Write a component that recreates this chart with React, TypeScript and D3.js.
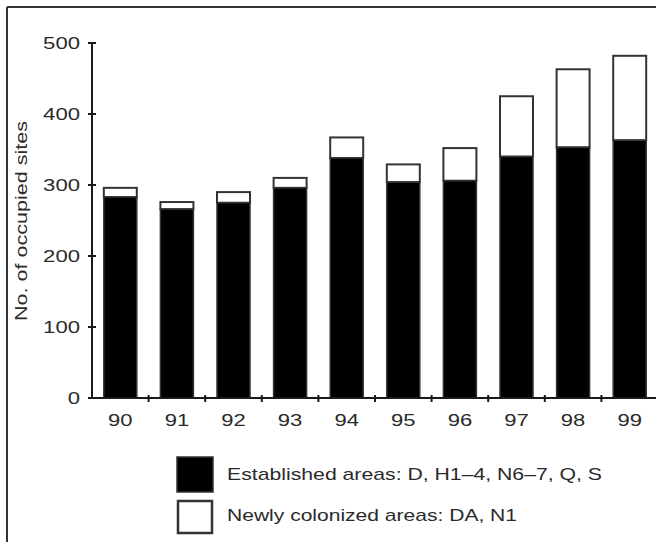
import React from "react";
import * as d3 from "d3";

const years = ["90", "91", "92", "93", "94", "95", "96", "97", "98", "99"];
const established = [283, 266, 275, 296, 338, 304, 306, 340, 353, 363];
const newlyColonized = [13, 10, 15, 14, 29, 25, 46, 85, 110, 119];
const yTicks = [0, 100, 200, 300, 400, 500];
const legendLabels = [
  "Established areas: D, H1\u20134, N6\u20137, Q, S",
  "Newly colonized areas: DA, N1",
];
const yTitle = "No. of occupied sites";

const W = 656;
const H = 542;
const ink = "#1a1a1a";
const font = "'Liberation Sans', Arial, Helvetica, sans-serif";

export default function App() {
  const x = d3
    .scaleBand<string>()
    .domain(years)
    .range([92, 658])
    .paddingInner(0.417)
    .paddingOuter(0.2085);
  const y = d3.scaleLinear().domain([0, 500]).range([398, 43]);
  const step = x.step();
  const bw = x.bandwidth();

  const rows = years.map((yr, i) => ({
    yr,
    est: established[i],
    nw: newlyColonized[i],
  }));

  return (
    <svg
      width={W}
      height={H}
      style={{ position: "absolute", left: 0, top: 0, background: "#fff" }}
    >
      <rect x={0} y={0} width={W} height={H} fill="#fff" />
      {/* frame */}
      <line x1={7} y1={7} x2={W} y2={7} stroke="#333" strokeWidth={2} />
      <line x1={7} y1={7} x2={7} y2={H} stroke="#333" strokeWidth={2} />

      {/* bars */}
      {rows.map((r) => (
        <g key={r.yr}>
          <rect
            x={x(r.yr)}
            y={y(r.est + r.nw)}
            width={bw}
            height={y(r.est) - y(r.est + r.nw)}
            fill="#fff"
            stroke="#333"
            strokeWidth={2}
          />
          <rect
            x={x(r.yr)}
            y={y(r.est)}
            width={bw}
            height={y(0) - y(r.est)}
            fill="#000"
            stroke="#333"
            strokeWidth={1.5}
          />
        </g>
      ))}

      {/* y axis */}
      <line x1={92} y1={y(500)} x2={92} y2={y(0)} stroke={ink} strokeWidth={2} />
      {yTicks.map((t) => (
        <g key={t}>
          <line x1={88} x2={96} y1={y(t)} y2={y(t)} stroke={ink} strokeWidth={2} />
          <text
            x={80}
            y={y(t) + 6}
            textAnchor="end"
            fontFamily={font}
            fontSize={16}
            fill="#2a2a2a"
            textLength={String(t).length * 12.3}
            lengthAdjust="spacingAndGlyphs"
          >
            {t}
          </text>
        </g>
      ))}

      {/* x axis */}
      <line x1={92} y1={y(0)} x2={W} y2={y(0)} stroke={ink} strokeWidth={2} />
      {years.map((yr) => (
        <g key={yr}>
          <line
            x1={(x(yr) as number) - (step - bw) / 2 + step}
            x2={(x(yr) as number) - (step - bw) / 2 + step}
            y1={y(0) - 3}
            y2={y(0) + 4}
            stroke={ink}
            strokeWidth={2}
          />
          <text
            x={(x(yr) as number) + bw / 2}
            y={426}
            textAnchor="middle"
            fontFamily={font}
            fontSize={16}
            fill="#2a2a2a"
            textLength={24.5}
            lengthAdjust="spacingAndGlyphs"
          >
            {yr}
          </text>
        </g>
      ))}

      {/* y title */}
      <text
        transform="translate(27,221) rotate(-90)"
        textAnchor="middle"
        fontFamily={font}
        fontSize={16}
        fill="#2a2a2a"
        textLength={200}
        lengthAdjust="spacingAndGlyphs"
      >
        {yTitle}
      </text>

      {/* legend */}
      <rect x={177} y={457} width={36} height={35} fill="#000" stroke="#333" strokeWidth={1.5} />
      <rect x={178} y={501} width={34} height={32} fill="#fff" stroke="#333" strokeWidth={2.5} />
      <text
        x={227}
        y={480}
        fontFamily={font}
        fontSize={17}
        fill="#2a2a2a"
        textLength={375}
        lengthAdjust="spacingAndGlyphs"
      >
        {legendLabels[0]}
      </text>
      <text
        x={227}
        y={521}
        fontFamily={font}
        fontSize={17}
        fill="#2a2a2a"
        textLength={290}
        lengthAdjust="spacingAndGlyphs"
      >
        {legendLabels[1]}
      </text>
    </svg>
  );
}
